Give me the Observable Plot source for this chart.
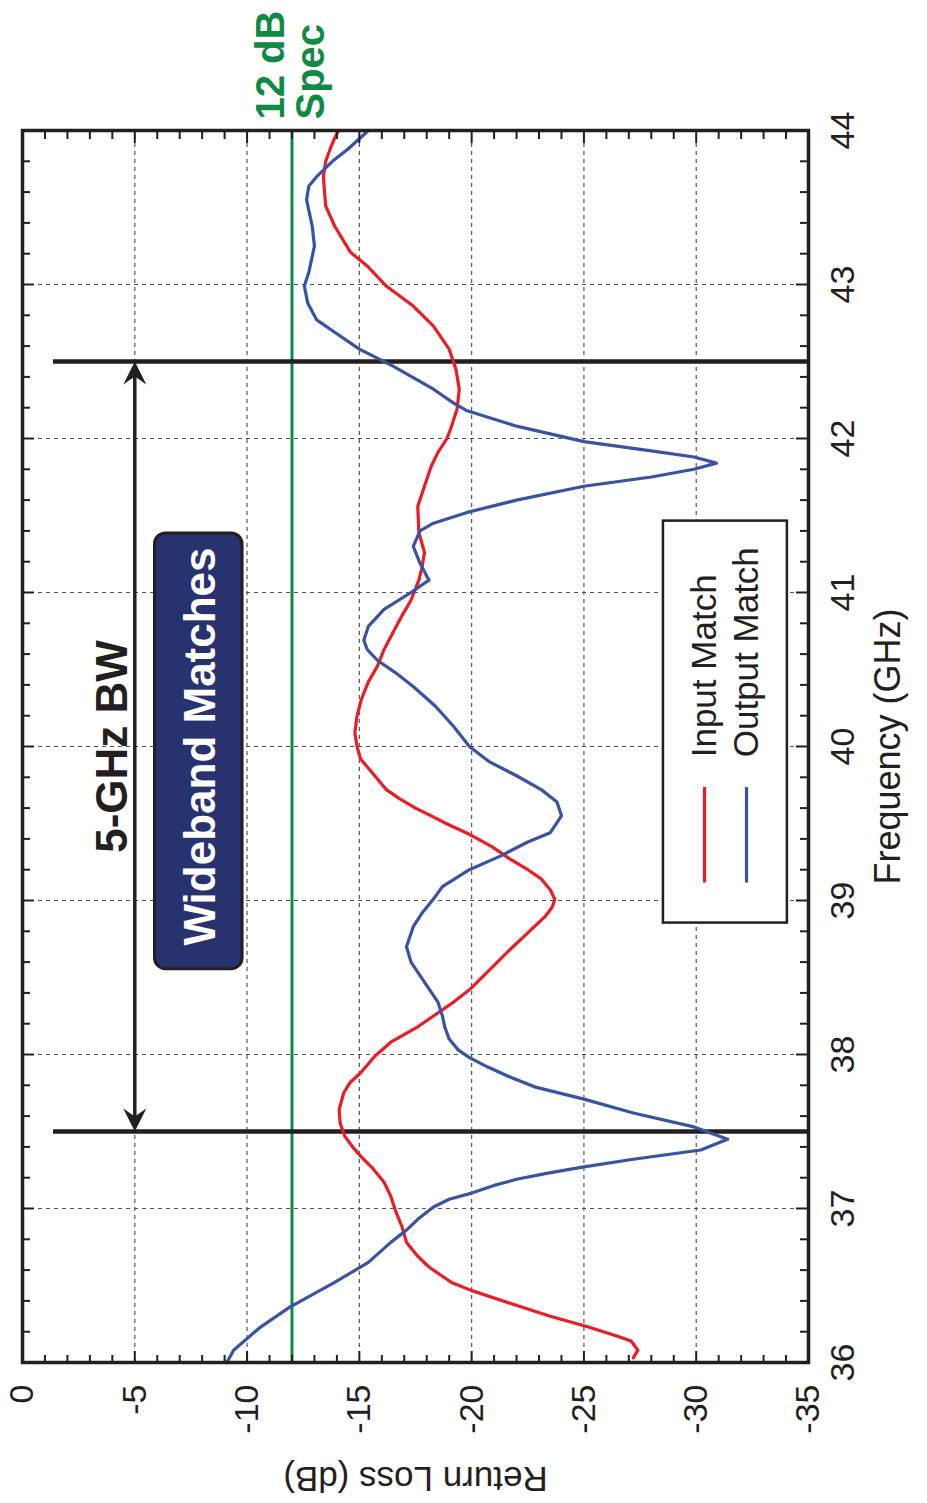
<!DOCTYPE html>
<html>
<head>
<meta charset="utf-8">
<script src="https://cdn.jsdelivr.net/npm/d3@7"></script>
<script src="https://cdn.jsdelivr.net/npm/@observablehq/plot@0.6"></script>
<style>
  html, body { margin: 0; padding: 0; background: #fff; }
  body { width: 927px; height: 1503px; overflow: hidden; position: relative; }
  #wrap { position: absolute; left: 0; top: 0; width: 1503px; height: 927px;
          transform-origin: 0 0; transform: translate(0px, 1503px) rotate(-90deg); }
</style>
</head>
<body>
<div id="wrap"></div>
<script>
// ---------------- data ----------------
const freqTickLabels = [36, 37, 38, 39, 40, 41, 42, 43, 44];
const rlTickLabels = [0, -5, -10, -15, -20, -25, -30, -35];
const seriesNames = ["Input Match", "Output Match"];
const specLevel = -12;
const bandEdges = [37.5, 42.5];

// [frequency GHz, return loss dB]
const inputMatch = [
  [36.03,-27.2],[36.08,-27.4],[36.14,-27.1],[36.17,-26.5],[36.23,-25.2],[36.30,-23.5],[36.39,-21.6],
  [36.47,-19.95],[36.52,-19.1],[36.57,-18.6],[36.62,-18.1],[36.69,-17.6],[36.78,-17.1],[36.88,-16.9],
  [36.99,-16.6],[37.08,-16.4],[37.17,-16.1],[37.26,-15.6],[37.34,-15.05],[37.40,-14.7],[37.47,-14.35],
  [37.55,-14.15],[37.64,-14.1],[37.75,-14.3],[37.82,-14.6],[37.88,-15.05],[37.99,-15.7],[38.08,-16.4],
  [38.18,-17.6],[38.25,-18.3],[38.33,-19.1],[38.42,-19.9],[38.55,-20.8],[38.68,-21.7],[38.79,-22.5],
  [38.90,-23.3],[38.96,-23.6],[39.01,-23.7],[39.07,-23.5],[39.14,-23.1],[39.20,-22.5],[39.27,-21.7],
  [39.35,-20.9],[39.43,-19.9],[39.49,-19.0],[39.55,-18.2],[39.60,-17.5],[39.66,-16.8],[39.72,-16.2],
  [39.79,-15.8],[39.92,-15.05],[40.00,-14.9],[40.09,-14.8],[40.20,-14.9],[40.31,-15.1],[40.42,-15.4],
  [40.52,-15.8],[40.63,-16.1],[40.74,-16.5],[40.85,-16.9],[40.95,-17.3],[41.08,-17.65],[41.17,-17.8],
  [41.26,-17.9],[41.39,-17.65],[41.56,-17.6],[41.69,-17.9],[41.82,-18.2],[41.91,-18.5],[42.00,-18.9],
  [42.06,-19.06],[42.19,-19.35],[42.32,-19.45],[42.45,-19.3],[42.58,-19.0],[42.73,-18.3],[42.86,-17.4],
  [42.99,-16.2],[43.12,-15.35],[43.21,-14.6],[43.38,-13.9],[43.51,-13.5],[43.60,-13.45],[43.70,-13.4],
  [43.80,-13.5],[43.88,-13.7],[43.95,-13.9],[44.00,-14.07]
];
const outputMatch = [
  [36.00,-9.1],[36.08,-9.4],[36.23,-10.6],[36.36,-11.9],[36.52,-13.9],[36.65,-15.4],[36.78,-16.4],
  [36.86,-17.1],[36.93,-17.6],[37.01,-18.3],[37.06,-19.0],[37.10,-20.0],[37.15,-21.0],[37.19,-22.0],
  [37.23,-23.4],[37.27,-25.0],[37.32,-27.2],[37.38,-30.2],[37.45,-31.4],[37.53,-29.9],[37.62,-27.2],
  [37.71,-25.0],[37.79,-22.8],[37.86,-21.6],[37.92,-20.7],[37.98,-19.9],[38.03,-19.4],[38.10,-19.0],
  [38.18,-18.8],[38.25,-18.7],[38.34,-18.5],[38.47,-17.9],[38.60,-17.3],[38.70,-17.1],[38.83,-17.4],
  [38.92,-17.8],[39.01,-18.3],[39.09,-18.7],[39.20,-19.9],[39.29,-21.3],[39.38,-22.5],[39.44,-23.5],
  [39.55,-24.0],[39.64,-23.8],[39.72,-23.1],[39.81,-22.0],[39.90,-20.8],[40.00,-19.9],[40.13,-19.2],
  [40.26,-18.4],[40.39,-17.4],[40.48,-16.6],[40.56,-15.8],[40.63,-15.35],[40.69,-15.2],[40.78,-15.4],
  [40.89,-16.1],[41.00,-17.3],[41.08,-18.1],[41.19,-17.7],[41.30,-17.4],[41.40,-17.7],[41.45,-18.3],
  [41.52,-19.8],[41.60,-22.0],[41.69,-25.0],[41.75,-28.0],[41.80,-29.9],[41.84,-30.9],[41.88,-29.9],
  [41.92,-28.0],[41.98,-25.0],[42.08,-22.0],[42.18,-19.8],[42.23,-19.2],[42.32,-18.3],[42.47,-16.5],
  [42.58,-15.0],[42.69,-13.9],[42.77,-13.1],[42.88,-12.7],[42.99,-12.55],[43.08,-12.75],[43.25,-13.0],
  [43.38,-12.9],[43.55,-12.65],[43.64,-12.75],[43.70,-13.1],[43.80,-13.8],[43.88,-14.5],[44.00,-15.4]
];

// ---------------- layout / style ----------------
const W = 1503, H = 927;
const mL = 140, mR = 131, mT = 22, mB = 119;
const pxPerGHz = (W - mL - mR) / 8;
const pxPerDB = (H - mT - mB) / 35;
const INK = "#231f20", RED = "#ed1c24", BLUE = "#3953a4", GREEN = "#0f8a43", NAVY = "#27326e";

const freqTicks = d3.range(1, 40).map(i => ({v: 36 + i * 0.2, len: i % 5 === 0 ? 12 : 8}));
const rlTicks = d3.range(1, 35).map(i => ({v: -i, len: i % 5 === 0 ? 12 : 8}));
const freqGrid = freqTickLabels.slice(1, -1);
const rlGrid = rlTickLabels.slice(1, -1);

const arrowHead = {
  draw(ctx) {
    ctx.moveTo(0, 0); ctx.lineTo(-23, -11.5); ctx.lineTo(-15, 0); ctx.lineTo(-23, 11.5); ctx.closePath();
  }
};

const plot = Plot.plot({
  width: W, height: H,
  marginLeft: mL, marginRight: mR, marginTop: mT, marginBottom: mB,
  style: "max-width:none;background:#fff;font-family:'Liberation Sans',Arial,Helvetica,sans-serif;font-size:34px;color:" + INK + ";",
  x: {domain: [36, 44], axis: null},
  y: {domain: [-35, 0], axis: null},
  marks: [
    // grid
    Plot.ruleX(freqGrid, {x: d => d, stroke: "#555", strokeWidth: 1.2, strokeDasharray: "4,4"}),
    Plot.ruleY(rlGrid, {y: d => d, stroke: "#555", strokeWidth: 1.2, strokeDasharray: "4,4"}),
    // wideband annotation box
    Plot.rect([{x1: 38.56, x2: 41.39, y1: -5.9, y2: -9.8}],
      {x1: "x1", x2: "x2", y1: "y1", y2: "y2", fill: NAVY, stroke: INK, strokeWidth: 3, rx: 11}),
    Plot.text(["Wideband Matches"], {x: () => 40, y: () => -7.93, text: d => d,
      fill: "#fff", fontSize: 44, fontWeight: "bold"}),
    // spec line
    Plot.ruleY([specLevel], {y: d => d, stroke: GREEN, strokeWidth: 3}),
    // band edges
    Plot.ruleX(bandEdges, {x: d => d, y1: -1.38, y2: -35, stroke: INK, strokeWidth: 4.5}),
    // bandwidth arrow
    Plot.ruleY([{y: -5, x1: bandEdges[0] + 0.05, x2: bandEdges[1] - 0.05}],
      {y: "y", x1: "x1", x2: "x2", stroke: INK, strokeWidth: 3.5}),
    Plot.dot([{x: bandEdges[1], y: -5, ang: 0}, {x: bandEdges[0], y: -5, ang: 180}],
      {x: "x", y: "y", rotate: "ang", symbol: arrowHead, fill: INK, stroke: "none"}),
    Plot.text(["5-GHz BW"], {x: () => 40, y: () => -5, dy: -22, text: d => d,
      fill: INK, fontSize: 44, fontWeight: "bold"}),
    // curves
    Plot.line(inputMatch, {x: d => d[0], y: d => d[1], stroke: RED, strokeWidth: 3.2, strokeLinejoin: "round"}),
    Plot.line(outputMatch, {x: d => d[0], y: d => d[1], stroke: BLUE, strokeWidth: 3.2, strokeLinejoin: "round"}),
    // legend
    Plot.rect([{x1: 38.86, x2: 41.47, y1: -28.54, y2: -34.06}],
      {x1: "x1", x2: "x2", y1: "y1", y2: "y2", fill: "#fff", stroke: INK, strokeWidth: 2.5}),
    Plot.ruleY([{y: -30.37, x1: 39.12, x2: 39.74, c: RED}, {y: -32.24, x1: 39.12, x2: 39.74, c: BLUE}],
      {y: "y", x1: "x1", x2: "x2", stroke: "c", strokeWidth: 3.2}),
    Plot.text([{t: seriesNames[0], y: -30.37}, {t: seriesNames[1], y: -32.24}],
      {x: () => 39.93, y: "y", text: "t", textAnchor: "start", fill: INK, fontSize: 35}),
    // frame + inward ticks
    Plot.frame({stroke: INK, strokeWidth: 3.5}),
    Plot.ruleX(freqTicks, {x: "v", y1: -35, y2: d => -35 + d.len / pxPerDB, stroke: INK, strokeWidth: 2}),
    Plot.ruleX(freqTicks, {x: "v", y1: 0, y2: d => -d.len / pxPerDB, stroke: INK, strokeWidth: 2}),
    Plot.ruleY(rlTicks, {y: "v", x1: 36, x2: d => 36 + d.len / pxPerGHz, stroke: INK, strokeWidth: 2}),
    Plot.ruleY(rlTicks, {y: "v", x1: 44, x2: d => 44 - d.len / pxPerGHz, stroke: INK, strokeWidth: 2}),
    // tick labels
    Plot.text(freqTickLabels, {x: d => d, frameAnchor: "bottom", lineAnchor: "top", dy: 21,
      text: d => String(d), fill: INK, fontSize: 34}),
    Plot.text(rlTickLabels, {y: d => d, frameAnchor: "left", textAnchor: "end", dx: -22,
      text: d => String(d), fill: INK, fontSize: 34}),
    // axis titles
    Plot.text(["Frequency (GHz)"], {frameAnchor: "bottom", textAnchor: "middle", dy: 91, text: d => d, fill: INK, fontSize: 36}),
    Plot.text(["Return Loss (dB)"], {frameAnchor: "left", textAnchor: "middle", rotate: -90, dx: -116, text: d => d, fill: INK, fontSize: 35}),
    // spec label
    Plot.text(["12 dB"], {x: () => 44, y: () => specLevel, dx: 11, dy: -21, textAnchor: "start",
      text: d => d, fill: GREEN, fontSize: 40, fontWeight: "bold"}),
    Plot.text(["Spec"], {x: () => 44, y: () => specLevel, dx: 11, dy: 19, textAnchor: "start",
      text: d => d, fill: GREEN, fontSize: 40, fontWeight: "bold"})
  ]
});
document.getElementById("wrap").appendChild(plot);
</script>
</body>
</html>
